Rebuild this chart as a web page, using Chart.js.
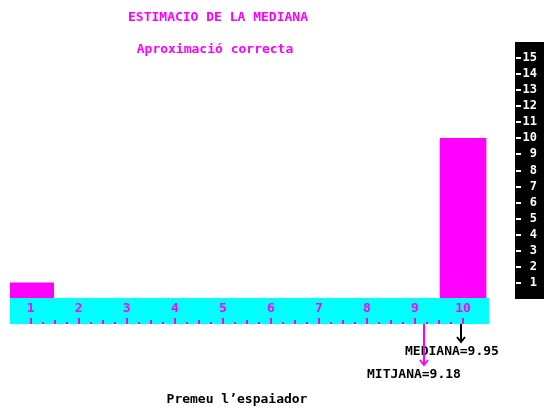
<!DOCTYPE html>
<html>
<head>
<meta charset="utf-8">
<script src="https://cdn.jsdelivr.net/npm/chart.js@4"></script>
<style>
  body { margin: 0; background: #fff; }
  #wrap { width: 544px; height: 415px; }
</style>
</head>
<body>
<div id="wrap"><canvas id="chart" width="544" height="415"></canvas></div>
<script>
// classes of the histogram and their frequencies
const classes = [1, 2, 3, 4, 5, 6, 7, 8, 9, 10];
const freqs = [1, 0, 0, 0, 0, 0, 0, 0, 0, 10];
const yTicks = [1, 2, 3, 4, 5, 6, 7, 8, 9, 10, 11, 12, 13, 14, 15];
const meanValue = 9.18;
const medianValue = 9.95;

const titleText = 'ESTIMACIO DE LA MEDIANA';
const subtitleText = 'Aproximació correcta';
const footerText = 'Premeu l\u2019espaiador';

const MAGENTA = '#ff00ff';
const CYAN = '#00ffff';
const FONT = 'bold 13px "DejaVu Sans Mono", monospace';

function arrow(ctx, x, y1, y2, color) {
    ctx.strokeStyle = color;
    ctx.lineWidth = 2;
    ctx.beginPath();
    ctx.moveTo(x, y1);
    ctx.lineTo(x, y2);
    ctx.moveTo(x - 4, y2 - 5);
    ctx.lineTo(x, y2);
    ctx.lineTo(x + 4, y2 - 5);
    ctx.stroke();
}

const retroPlugin = {
    id: 'retro',
    beforeDraw(chart) {
        const ctx = chart.ctx;
        ctx.save();
        ctx.fillStyle = '#fff';
        ctx.fillRect(0, 0, chart.width, chart.height);
        ctx.restore();
    },
    afterDatasetsDraw(chart) {
        const ctx = chart.ctx;
        const { left, right, top, bottom } = chart.chartArea;
        const x = chart.scales.x;
        const y = chart.scales.y;
        ctx.save();

        // cyan ruler under the bars
        ctx.fillStyle = CYAN;
        ctx.fillRect(left, bottom - 1, right - left, 26);
        ctx.fillStyle = MAGENTA;
        ctx.font = FONT;
        ctx.textAlign = 'center';
        ctx.textBaseline = 'middle';
        classes.forEach(c => {
            ctx.fillText(String(c), x.getPixelForValue(c), bottom + 10);
        });
        for (let v = classes[0]; v <= classes[classes.length - 1] + 0.001; v += 0.25) {
            const px = Math.round(x.getPixelForValue(v));
            let h = 2;
            if (Math.abs(v - Math.round(v)) < 0.01) h = 6;
            else if (Math.abs(v * 2 - Math.round(v * 2)) < 0.01) h = 4;
            ctx.fillRect(px - 1, bottom + 25 - h, 2, h);
        }

        // black value axis on the right
        ctx.fillStyle = '#000';
        ctx.fillRect(515, top, chart.width - 515, bottom - top);
        ctx.fillStyle = '#fff';
        ctx.font = 'bold 12px "DejaVu Sans Mono", monospace';
        ctx.textAlign = 'right';
        yTicks.forEach(t => {
            const py = Math.round(y.getPixelForValue(t));
            ctx.fillRect(516, py - 1, 5, 2);
            ctx.fillText(String(t), 537, py);
        });

        // titles
        ctx.fillStyle = MAGENTA;
        ctx.font = FONT;
        ctx.textAlign = 'center';
        ctx.fillText(titleText, 218, 18);
        ctx.fillText(subtitleText, 215, 50);

        // mean / median markers
        const medX = Math.round(x.getPixelForValue(medianValue));
        const meanX = Math.round(x.getPixelForValue(meanValue));
        ctx.fillStyle = '#000';
        ctx.textAlign = 'left';
        ctx.fillText('MEDIANA=' + medianValue.toFixed(2), medX - 56, 352);
        ctx.fillText('MITJANA=' + meanValue.toFixed(2), meanX - 57, 375);
        arrow(ctx, medX, bottom + 25, bottom + 43, '#000');
        arrow(ctx, meanX, bottom + 25, bottom + 66, MAGENTA);

        ctx.textAlign = 'center';
        ctx.fillStyle = '#000';
        ctx.fillText(footerText, 237, 400);
        ctx.restore();
    }
};

new Chart(document.getElementById('chart'), {
    type: 'bar',
    data: {
        datasets: [{
            data: classes.map((c, i) => ({ x: c, y: freqs[i] })),
            backgroundColor: MAGENTA,
            borderWidth: 0,
            barThickness: 46
        }]
    },
    options: {
        responsive: false,
        animation: false,
        layout: { padding: { left: 10, right: 55, top: 42, bottom: 116 } },
        scales: {
            x: { type: 'linear', min: 0.57, max: 10.54, offset: false, display: false },
            y: { min: 0, max: 16, display: false }
        },
        plugins: {
            legend: { display: false },
            tooltip: { enabled: false }
        }
    },
    plugins: [retroPlugin]
});
</script>
</body>
</html>
